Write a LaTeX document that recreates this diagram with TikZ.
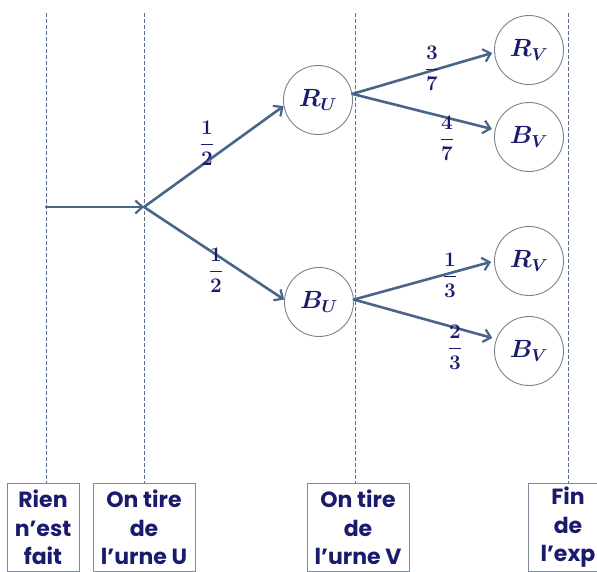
\documentclass[tikz,border=0pt]{standalone}
\usepackage{amsmath,bm}
\usepackage{fontspec}
\newfontfamily\boxfont{Poppins}
\usetikzlibrary{arrows.meta}
\definecolor{navy}{HTML}{1B1B6E}
\definecolor{arrc}{HTML}{4A6687}
\definecolor{guidec}{HTML}{5A6F8A}
\definecolor{boxc}{HTML}{7F8A9A}
\definecolor{circc}{HTML}{7A8290}
\begin{document}
\begin{tikzpicture}[x=1pt,y=-1pt,
  guide/.style={draw=guidec, dash pattern=on 4pt off 2pt, line width=0.8pt},
  stagebox/.style={draw=boxc, line width=1pt, font=\boxfont\bfseries\fontsize{22}{28.5}\selectfont, text=navy, align=center, minimum height=88pt, inner sep=0pt, anchor=north},
  event/.style={circle, draw=circc, line width=0.9pt, minimum size=69pt, inner sep=0pt, text=navy, font=\fontsize{26}{30}\selectfont},
  branch/.style={draw=arrc, line width=2.6pt, line cap=round, -{Straight Barb[length=7pt,width=13pt,line width=2.2pt]}},
  prob/.style={text=navy, font=\fontsize{20}{24}\selectfont, inner sep=0pt}]
\useasboundingbox (0,0) rectangle (597,571);

% stage boxes
\node[stagebox, minimum width=72pt] (b1) at (43,483) {Rien\\n’est\\fait};
\node[stagebox, minimum width=102pt] (b2) at (144,483) {On tire\\de\\l’urne U};
\node[stagebox, minimum width=102pt] (b3) at (358,483) {On tire\\de\\l’urne V};
\node[stagebox, minimum width=80pt] (b4) at (568,483) {Fin\\de\\l’exp};
\draw[boxc, line width=1pt] (b1.south west) -- ++(0,10);
\draw[boxc, line width=1pt] (b1.south east) -- ++(0,10);
\draw[boxc, line width=1pt] (b2.south west) -- ++(0,10);
\draw[boxc, line width=1pt] (b2.south east) -- ++(0,10);
\draw[boxc, line width=1pt] (b3.south west) -- ++(0,10);
\draw[boxc, line width=1pt] (b3.south east) -- ++(0,10);
\draw[boxc, line width=1pt] (b4.south west) -- ++(0,10);

% dashed guides
\coordinate (t1) at (46,13);
\coordinate (t2) at (144,13);
\coordinate (t3) at (355,13);
\coordinate (t4) at (568,13);
\draw[guide] (t1) -- (t1 |- b1.north);
\draw[guide] (t2) -- (t2 |- b2.north);
\draw[guide] (t3) -- (t3 |- b3.north);
\draw[guide] (t4) -- (t4 |- b4.north);

% events
\node[event] (RU) at (318,100) {$\bm{R_U}$};
\node[event] (BU) at (319,302) {$\bm{B_U}$};
\node[event] (RV1) at (529,50) {$\bm{R_V}$};
\node[event] (BV1) at (529,137) {$\bm{B_V}$};
\node[event] (RV2) at (529,261) {$\bm{R_V}$};
\node[event] (BV2) at (529,351) {$\bm{B_V}$};

\coordinate (s) at (46,207);
\coordinate (o) at (144,207);

% branches
\draw[branch] (s) -- (o);
\draw[branch] (o) -- (RU.190);
\draw[branch] (o) -- (BU.176);
\draw[branch, shorten >=2pt] (RU.10) -- (RV1.184);
\draw[branch, shorten >=3pt] (RU.10) -- (BV1.168);
\draw[branch, shorten >=3pt] (BU.4) -- (RV2.180);
\draw[branch, shorten >=4pt] (BU.4) -- (BV2.160);

% probabilities
\node[prob] (p1) at (207,143) {$\bm{\dfrac{1}{2}}$};
\node[prob] (p2) at (216,270) {$\bm{\dfrac{1}{2}}$};
\node[prob] (p3) at (432,68) {$\bm{\dfrac{3}{7}}$};
\node[prob] (p4) at (447,138) {$\bm{\dfrac{4}{7}}$};
\node[prob] (p5) at (450,275) {$\bm{\dfrac{1}{3}}$};
\node[prob] (p6) at (455,347) {$\bm{\dfrac{2}{3}}$};
\end{tikzpicture}
\end{document}
